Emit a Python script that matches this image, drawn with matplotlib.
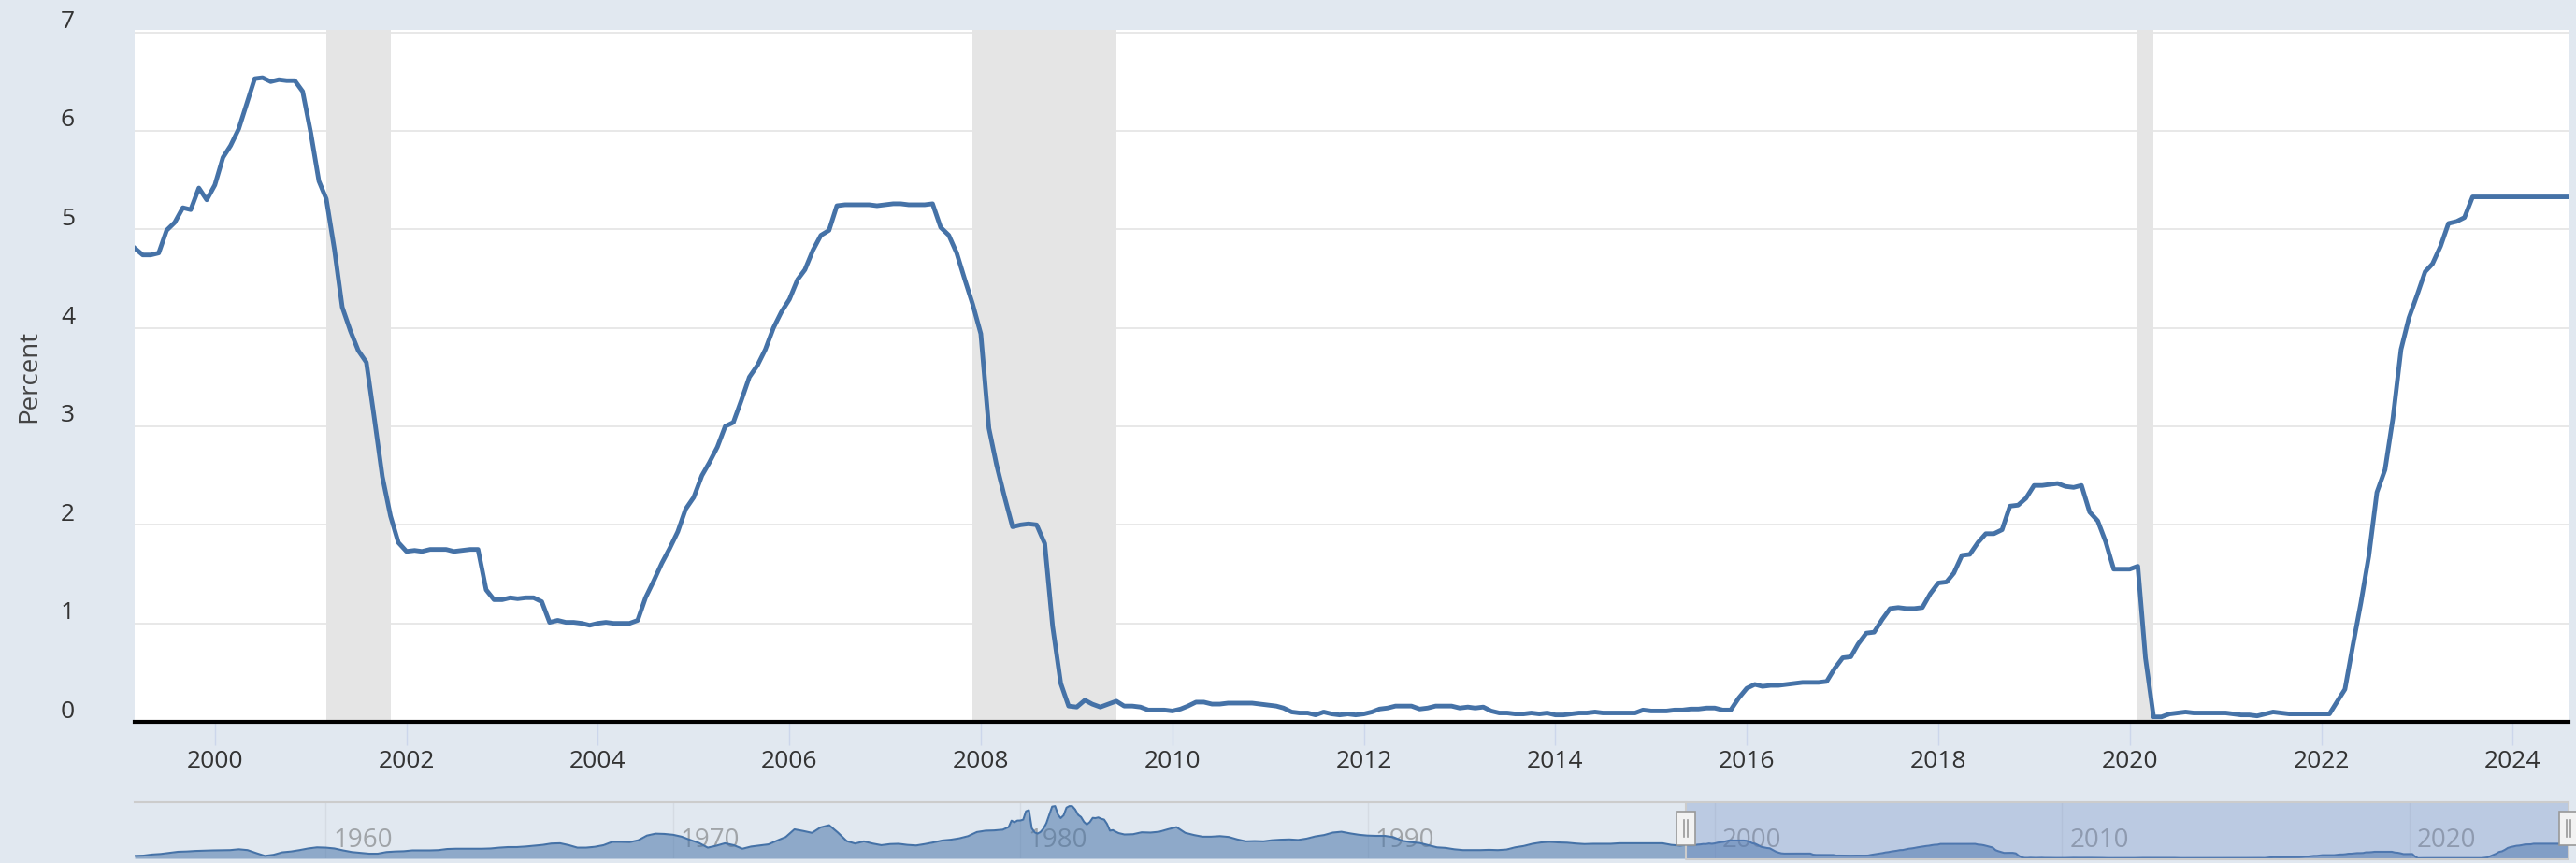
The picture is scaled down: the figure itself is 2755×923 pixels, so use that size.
import numpy as np
import pandas as pd
import matplotlib
matplotlib.use("Agg")
import matplotlib.pyplot as plt
from matplotlib.patches import Rectangle
from matplotlib.transforms import ScaledTranslation, blended_transform_factory

# =========================
# Data: effective federal funds rate, monthly, Mar 1999 - Aug 2024
# =========================
fedfunds_start = "1999-03-01"
fedfunds = [
    4.81, 4.74, 4.74, 4.76, 4.99, 5.07, 5.22, 5.20, 5.42, 5.30,                  # 1999
    5.45, 5.73, 5.85, 6.02, 6.27, 6.53, 6.54, 6.50, 6.52, 6.51, 6.51, 6.40,      # 2000
    5.98, 5.49, 5.31, 4.80, 4.21, 3.97, 3.77, 3.65, 3.07, 2.49, 2.09, 1.82,      # 2001
    1.73, 1.74, 1.73, 1.75, 1.75, 1.75, 1.73, 1.74, 1.75, 1.75, 1.34, 1.24,      # 2002
    1.24, 1.26, 1.25, 1.26, 1.26, 1.22, 1.01, 1.03, 1.01, 1.01, 1.00, 0.98,      # 2003
    1.00, 1.01, 1.00, 1.00, 1.00, 1.03, 1.26, 1.43, 1.61, 1.76, 1.93, 2.16,      # 2004
    2.28, 2.50, 2.63, 2.79, 3.00, 3.04, 3.26, 3.50, 3.62, 3.78, 4.00, 4.16,      # 2005
    4.29, 4.49, 4.59, 4.79, 4.94, 4.99, 5.24, 5.25, 5.25, 5.25, 5.25, 5.24,      # 2006
    5.25, 5.26, 5.26, 5.25, 5.25, 5.25, 5.26, 5.02, 4.94, 4.76, 4.49, 4.24,      # 2007
    3.94, 2.98, 2.61, 2.28, 1.98, 2.00, 2.01, 2.00, 1.81, 0.97, 0.39, 0.16,      # 2008
    0.15, 0.22, 0.18, 0.15, 0.18, 0.21, 0.16, 0.16, 0.15, 0.12, 0.12, 0.12,      # 2009
    0.11, 0.13, 0.16, 0.20, 0.20, 0.18, 0.18, 0.19, 0.19, 0.19, 0.19, 0.18,      # 2010
    0.17, 0.16, 0.14, 0.10, 0.09, 0.09, 0.07, 0.10, 0.08, 0.07, 0.08, 0.07,      # 2011
    0.08, 0.10, 0.13, 0.14, 0.16, 0.16, 0.16, 0.13, 0.14, 0.16, 0.16, 0.16,      # 2012
    0.14, 0.15, 0.14, 0.15, 0.11, 0.09, 0.09, 0.08, 0.08, 0.09, 0.08, 0.09,      # 2013
    0.07, 0.07, 0.08, 0.09, 0.09, 0.10, 0.09, 0.09, 0.09, 0.09, 0.09, 0.12,      # 2014
    0.11, 0.11, 0.11, 0.12, 0.12, 0.13, 0.13, 0.14, 0.14, 0.12, 0.12, 0.24,      # 2015
    0.34, 0.38, 0.36, 0.37, 0.37, 0.38, 0.39, 0.40, 0.40, 0.40, 0.41, 0.54,      # 2016
    0.65, 0.66, 0.79, 0.90, 0.91, 1.04, 1.15, 1.16, 1.15, 1.15, 1.16, 1.30,      # 2017
    1.41, 1.42, 1.51, 1.69, 1.70, 1.82, 1.91, 1.91, 1.95, 2.19, 2.20, 2.27,      # 2018
    2.40, 2.40, 2.41, 2.42, 2.39, 2.38, 2.40, 2.13, 2.04, 1.83, 1.55, 1.55,      # 2019
    1.55, 1.58, 0.65, 0.05, 0.05, 0.08, 0.09, 0.10, 0.09, 0.09, 0.09, 0.09,      # 2020
    0.09, 0.08, 0.07, 0.07, 0.06, 0.08, 0.10, 0.09, 0.08, 0.08, 0.08, 0.08,      # 2021
    0.08, 0.08, 0.20, 0.33, 0.77, 1.21, 1.68, 2.33, 2.56, 3.08, 3.78, 4.10,      # 2022
    4.33, 4.57, 4.65, 4.83, 5.06, 5.08, 5.12, 5.33, 5.33, 5.33, 5.33, 5.33,      # 2023
    5.33, 5.33, 5.33, 5.33, 5.33, 5.33, 5.33, 5.33,                              # 2024
]

# recessions (peak month -> trough month)
rec_start = ["2001-03-01", "2007-12-01", "2020-02-01"]
rec_end = ["2001-11-01", "2009-06-01", "2020-04-01"]

# navigator history (quarterly 1954Q3-1979Q2, monthly 1979-07..1982-12, quarterly 1983-1998)
nav_q1 = [
    0.9, 1.0,
    1.4, 1.6, 2.0, 2.4,  2.5, 2.7, 2.8, 2.9,  2.95, 3.0, 3.3, 3.0,  1.9, 0.9, 1.3, 2.2,
    2.5, 3.0, 3.6, 4.0,  3.9, 3.6, 2.9, 2.3,  2.0, 1.7, 1.7, 2.3,  2.5, 2.6, 2.9, 2.9,
    2.9, 3.0, 3.4, 3.5,  3.5, 3.5, 3.5, 3.6,  3.9, 4.1, 4.1, 4.3,  4.6, 4.9, 5.4, 5.5,
    4.8, 3.9, 3.9, 4.2,  4.8, 6.0, 6.0, 5.9,  6.6, 8.3, 9.0, 8.9,  8.6, 7.9, 6.7, 5.6,
    3.9, 4.6, 5.5, 4.8,  3.5, 4.3, 4.7, 5.1,  6.5, 7.8, 10.6, 10.0,  9.3, 11.3, 12.1, 9.4,
    6.3, 5.4, 6.2, 5.4,  4.8, 5.2, 5.3, 4.9,  4.7, 5.2, 5.8, 6.5,  6.8, 7.3, 8.1, 9.6,
    10.1, 10.2,
]
nav_m = [
    10.47, 10.94, 11.43, 13.77, 13.18, 13.78,
    13.82, 14.13, 17.19, 17.61, 10.98, 9.47, 9.03, 9.61, 10.87, 12.81, 15.85, 18.90,
    19.08, 15.93, 14.70, 15.72, 18.52, 19.10, 19.04, 17.82, 15.87, 15.08, 13.31, 12.37,
    13.22, 14.78, 14.68, 14.94, 14.45, 14.15, 12.59, 10.12, 10.31, 9.71, 9.20, 8.95,
]
nav_q2 = [
    8.7, 8.8, 9.5, 9.4,  9.7, 10.6, 11.4, 9.3,  8.5, 7.9, 7.9, 8.1,  7.8, 6.9, 6.2, 6.3,
    6.2, 6.6, 6.8, 6.9,  6.7, 7.2, 8.0, 8.5,  9.4, 9.7, 9.1, 8.6,  8.3, 8.2, 8.2, 7.7,
    6.4, 5.9, 5.6, 4.8,  4.0, 3.8, 3.3, 3.0,  3.0, 3.0, 3.1, 3.0,  3.2, 4.0, 4.5, 5.3,
    5.8, 6.0, 5.8, 5.7,  5.4, 5.2, 5.3, 5.3,  5.3, 5.5, 5.5, 5.5,  5.5, 5.5, 5.5, 4.9,
]
nav_m99 = [4.63, 4.76]  # Jan-Feb 1999, before the selected window
nav_labels = [1960, 1970, 1980, 1990, 2000, 2010, 2020]

# =========================
# Build series
# =========================
dates = pd.date_range(fedfunds_start, periods=len(fedfunds), freq="MS")
s = pd.Series(fedfunds, index=dates)

nav = pd.concat([
    pd.Series(nav_q1, index=pd.date_range("1954-07-01", periods=len(nav_q1), freq="QS-JAN")),
    pd.Series(nav_m, index=pd.date_range("1979-07-01", periods=len(nav_m), freq="MS")),
    pd.Series(nav_q2, index=pd.date_range("1983-01-01", periods=len(nav_q2), freq="QS-JAN")),
    pd.Series(nav_m99, index=pd.date_range("1999-01-01", periods=len(nav_m99), freq="MS")),
    s,
])

# =========================
# Figure
# =========================
plt.rcParams["font.family"] = ["Open Sans", "DejaVu Sans"]
BG = "#e1e8f0"
LINE = "#4572a7"
W, H = 2755, 923
fig = plt.figure(figsize=(W / 100, H / 100), dpi=100, facecolor=BG)

L, R, T, B = 144, 2747, 32, 772
ax = fig.add_axes([L / W, 1 - B / H, (R - L) / W, (B - T) / H])
ax.set_facecolor("white")
for sp in ax.spines.values():
    sp.set_visible(False)

ax.plot(s.index, s.values, color=LINE, lw=3.5, zorder=3, solid_joinstyle="round")
for a, b in zip(rec_start, rec_end):
    ax.axvspan(pd.Timestamp(a), pd.Timestamp(b), color="#e5e5e5", lw=0, zorder=1)
ax.axhline(0, color="black", lw=3.0, zorder=4, clip_on=False)

ax.set_xlim(dates[0], dates[-1])
ax.set_ylim(0, 7.025)
ax.set_yticks(range(0, 8))
ax.grid(axis="y", color="#e6e6e6", lw=1.3, zorder=0.5)
ax.set_axisbelow(True)

xt = pd.to_datetime([f"{y}-01-01" for y in range(2000, 2025, 2)])
ax.set_xticks(xt)
ax.set_xticklabels([str(d.year) for d in xt])
ax.tick_params(axis="x", length=18, width=1, color="#ccd6eb", pad=3.5,
               labelsize=19, labelcolor="#333333")
ax.tick_params(axis="y", length=0, pad=46, labelsize=19, labelcolor="#333333")
off = ScaledTranslation(0, 14 / 100, fig.dpi_scale_trans)
for lab in ax.get_yticklabels():
    lab.set_transform(lab.get_transform() + off)

fig.text(31 / W, 1 - 402 / H, "Percent", rotation=90, ha="center", va="center",
         fontsize=20, color="#444444")

# =========================
# Navigator
# =========================
NT, NB = 858, 918
ax2 = fig.add_axes([L / W, 1 - NB / H, (R - L) / W, (NB - NT) / H])
ax2.set_facecolor("none")
for sp in ax2.spines.values():
    sp.set_visible(False)
ax2.set_xticks([])
ax2.set_yticks([])
ax2.set_xlim(pd.Timestamp("1954-07-01"), dates[-1])
ax2.set_ylim(0, 20.5)

bt = blended_transform_factory(ax2.transData, ax2.transAxes)
for y in nav_labels:
    d = pd.Timestamp(f"{y}-01-01")
    ax2.axvline(d, color="#d5dbe3", lw=1, zorder=0)
    ax2.text(d, 0.32, str(y), transform=bt + ScaledTranslation(8 / 100, 0, fig.dpi_scale_trans),
             ha="left", va="center", fontsize=20, color="#a0a4a8", zorder=1)

ax2.fill_between(nav.index, 0, nav.values, color=LINE, alpha=0.53, lw=0, zorder=2)
ax2.plot(nav.index, nav.values, color=LINE, lw=1.5, zorder=3)

# selected range mask
sel0, sel1 = dates[0], dates[-1]
ax2.axvspan(sel0, sel1, color=(102 / 255, 133 / 255, 194 / 255), alpha=0.3, lw=0, zorder=4)

# outline
ax2.plot([ax2.get_xlim()[0], ax2.get_xlim()[1]], [1, 1], transform=bt, color="#cccccc",
         lw=1.5, clip_on=False, zorder=5)
ax2.plot([sel0, sel0, sel1, sel1], [1, -0.02, -0.02, 1], transform=bt, color="#cccccc",
         lw=1.5, clip_on=False, zorder=5)

# handles
hw = pd.Timedelta(days=98)
for d in (sel0, sel1):
    ax2.add_patch(Rectangle((d - hw, 0.23), 2 * hw, 0.6, transform=bt, facecolor="#f2f2f2",
                            edgecolor="#999999", lw=1.2, clip_on=False, zorder=6))
    for dx in (-20, 20):
        ax2.plot([d + pd.Timedelta(days=dx)] * 2, [0.38, 0.68], transform=bt, color="#999999",
                 lw=1.2, clip_on=False, zorder=7)

fig.savefig("out.png", dpi=100, facecolor=BG)
